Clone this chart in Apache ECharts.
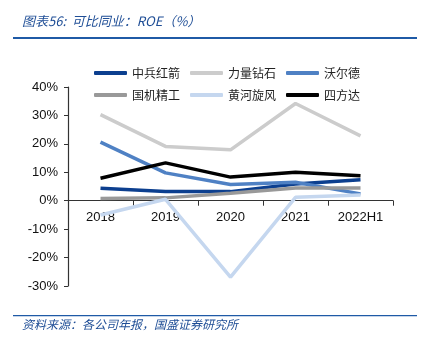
<!DOCTYPE html>
<html>
<head>
<meta charset="utf-8">
<script src="https://cdn.jsdelivr.net/npm/echarts@6/dist/echarts.min.js"></script>
<style>
  html, body { margin: 0; padding: 0; background: #fff; }
  #main { width: 422px; height: 351px; }
</style>
</head>
<body>
<div id="main"></div>
<script>
const categories = ['2018', '2019', '2020', '2021', '2022H1'];
const seriesNames = ['中兵红箭', '力量钻石', '沃尔德', '国机精工', '黄河旋风', '四方达'];
const zbhj = [4.4, 3.2, 3.2, 5.9, 7.4];
const llzs = [30.3, 19.1, 17.9, 34.2, 22.8];
const wed = [20.6, 9.8, 5.7, 6.5, 2.4];
const gjjg = [0.8, 1.0, 2.6, 4.5, 4.5];
const hhxf = [-5.0, 0.5, -26.9, 1.2, 2.0];
const sfd = [7.9, 13.3, 8.3, 10.0, 8.8];
const colors = ['#0c3f8f', '#cccccc', '#4f81c4', '#999999', '#c5d7ef', '#000000'];

const chart = echarts.init(document.getElementById('main'));
const allData = [zbhj, llzs, wed, gjjg, hhxf, sfd];

const yMin = -30, yMax = 40;
const gridTop = 87, gridBottom = 65;
const plotH = 351 - gridTop - gridBottom;
// put the category axis on the zero line, labels included
const zeroOffset = -plotH * (0 - yMin) / (yMax - yMin);

const legendBase = {
  icon: 'roundRect',
  itemWidth: 33,
  itemHeight: 4,
  itemGap: 10,
  textStyle: { fontFamily: 'Noto Sans CJK SC', fontSize: 12, color: '#222' }
};

chart.setOption({
  animation: false,
  color: colors,
  legend: [
    Object.assign({ left: 89, top: 62, data: seriesNames.slice(0, 3) }, legendBase),
    Object.assign({ left: 89, top: 84, data: seriesNames.slice(3) }, legendBase)
  ],
  grid: { left: 68, right: 29, top: gridTop, bottom: gridBottom },
  xAxis: {
    type: 'category',
    data: categories,
    position: 'bottom',
    offset: zeroOffset,
    axisLine: { onZero: false, lineStyle: { color: '#333', width: 1.2 } },
    axisTick: { show: true, length: 5, lineStyle: { color: '#333' } },
    axisLabel: { color: '#111', fontFamily: 'Liberation Sans', fontSize: 13, margin: 10 }
  },
  yAxis: {
    type: 'value',
    min: yMin,
    max: yMax,
    interval: 10,
    axisLine: { show: true, lineStyle: { color: '#333', width: 1.2 } },
    axisTick: { show: true, length: 4, lineStyle: { color: '#333' } },
    splitLine: { show: false },
    axisLabel: { formatter: '{value}%', color: '#111', fontFamily: 'Liberation Sans', fontSize: 13, margin: 10 }
  },
  series: seriesNames.map((n, i) => ({
    name: n,
    type: 'line',
    data: allData[i],
    symbol: 'none',
    lineStyle: { width: 3.5, color: colors[i] },
    itemStyle: { color: colors[i] }
  })),
  graphic: [
    { type: 'text', left: 22, top: 15, style: { text: '图表56:  可比同业：ROE（%）', fill: '#1f4e96', font: 'italic 13px "Noto Sans CJK SC"' } },
    { type: 'rect', shape: { x: 13, y: 37, width: 404, height: 2 }, style: { fill: '#1f5aa6' } },
    { type: 'rect', shape: { x: 13, y: 315, width: 404, height: 1.3 }, style: { fill: '#1f5aa6' } },
    { type: 'text', left: 22, top: 318, style: { text: '资料来源：各公司年报，国盛证券研究所', fill: '#1f4e96', font: 'italic 12px "Noto Sans CJK SC"' } }
  ]
});
</script>
</body>
</html>
